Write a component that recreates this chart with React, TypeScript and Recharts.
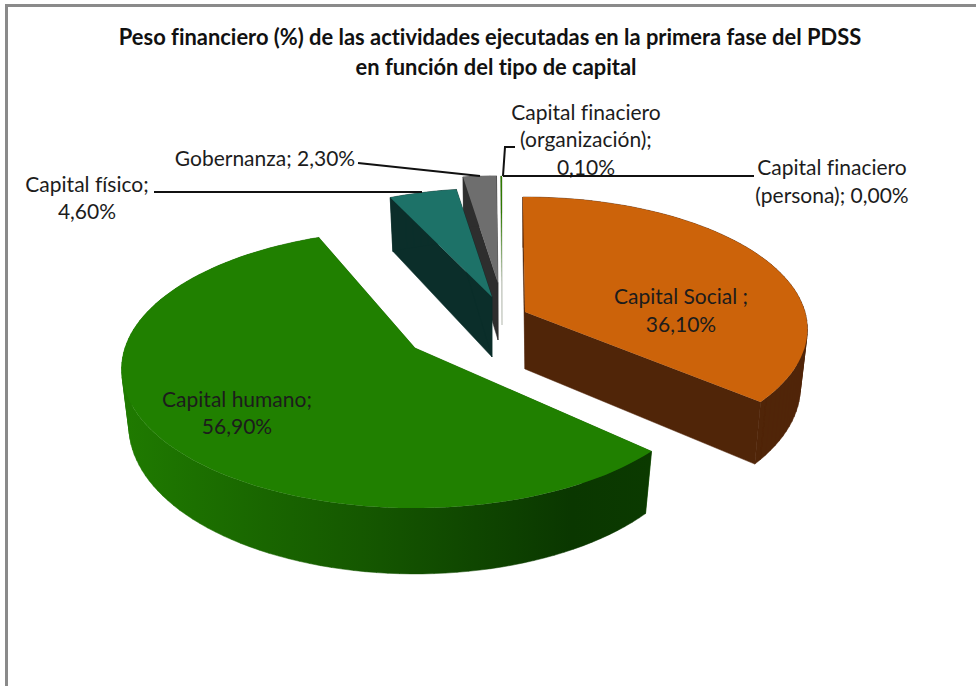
import { Cell, Pie, PieChart } from "recharts";

// draw order starts at Gobernanza so that the teal slice lands on top of the grey one
const names = [
  "Gobernanza",
  "Capital finaciero (organización)",
  "Capital finaciero (persona)",
  "Capital Social",
  "Capital humano",
  "Capital físico",
];
const values = [2.3, 0.1, 0.0, 36.1, 56.9, 4.6];
const labelLines = [
  ["Gobernanza; 2,30%"],
  ["Capital finaciero", "(organización);", "0,10%"],
  ["Capital finaciero", "(persona); 0,00%"],
  ["Capital Social ;", "36,10%"],
  ["Capital humano;", "56,90%"],
  ["Capital físico;", "4,60%"],
];
const topColors = ["#6e6e6e", "#2f7a00", "#2f7a00", "#cc630a", "#208000", "#1d7268"];
const wallColors = ["#2e2e2e", "#c4c8c0", "#c4c8c0", "#502508", "#1a6600", "#0b2e2a"];

const CX = 466;
const CY = 327;
const RADIUS = 280;
const FONT = "Lato, sans-serif";

// offset from the pie centre, size, tilt and perspective of each exploded slice
const frames = [
  { dx: 32, dy: -44, scale: 0.94, tilt: 0.46, k: 0.13, rot: 0, depth: 57 },
  { dx: 36, dy: -44, scale: 0.94, tilt: 0.46, k: 0.13, rot: 0, depth: 42 },
  { dx: 36, dy: -44, scale: 0.94, tilt: 0.46, k: 0.13, rot: 0, depth: 42 },
  { dx: 59, dy: -15, scale: 1.0, tilt: 0.464, k: 0.13, rot: -0.5, depth: 57 },
  { dx: -51, dy: 21, scale: 1.036, tilt: 0.469, k: 0.15, rot: 3, depth: 56 },
  { dx: 26, dy: -30, scale: 0.954, tilt: 0.46, k: 0.13, rot: 0, depth: 60 },
];
const labelSpots = [
  { x: 265, ys: [166] },
  { x: 586, ys: [120, 147, 175] },
  { x: 832, ys: [175, 203] },
  { x: 681, ys: [304, 332] },
  { x: 237, ys: [407, 434] },
  { x: 87, ys: [192, 219] },
];
const leaders = [
  "M358 163 L480 176",
  "M515 147 L505 147 L503 176",
  "M503 176 L754 176",
  "",
  "",
  "M154 192 L422 192",
];

const project = (frame: any, R: number, ax: number, ay: number, cw: number) => {
  const u = Math.sin((cw * Math.PI) / 180);
  const v = Math.cos((cw * Math.PI) / 180);
  const s = 1 / (1 + frame.k * v);
  return { x: ax + R * u * s, y: ay - R * frame.tilt * v * s, s };
};

const Slice3D = (props: any) => {
  const { cx, cy, outerRadius, startAngle, endAngle, fill, index } = props;
  if (Math.abs(endAngle - startAngle) < 0.01) return null;
  const frame = frames[index];
  const R = outerRadius * frame.scale;
  const ax = cx + frame.dx;
  const ay = cy + frame.dy;
  const from = 90 - startAngle + frame.rot;
  const to = 90 - endAngle + frame.rot;
  const arc: any[] = [];
  const steps = Math.max(2, Math.ceil(Math.abs(to - from) / 2));
  for (let i = 0; i <= steps; i++) {
    arc.push(project(frame, R, ax, ay, from + ((to - from) * i) / steps));
  }
  const drop = (p: any) => ({
    x: ax + (p.x - ax) * 0.975,
    y: p.y + frame.depth * p.s,
  });
  const path = (pts: any[]) => pts.map((p, i) => `${i ? "L" : "M"}${p.x.toFixed(1)} ${p.y.toFixed(1)}`).join(" ") + " Z";
  // outer side as quads of one winding, so the fold at the silhouette leaves no hole
  const quads = arc
    .slice(1)
    .map((p, i) => {
      const q = [arc[i], p, drop(p), drop(arc[i])];
      const area = q.reduce((sum, a, n) => {
        const b = q[(n + 1) % 4];
        return sum + a.x * b.y - b.x * a.y;
      }, 0);
      return path(area < 0 ? q.reverse() : q);
    })
    .join(" ");
  const apex = { x: ax, y: ay, s: 1 };
  const first = arc[0];
  const last = arc[arc.length - 1];
  const gradId = `side-${index}`;
  const isGreen = names[index] === "Capital humano";
  const wall = wallColors[index];
  const sideFill = isGreen ? `url(#${gradId})` : wall;
  return (
    <g>
      {isGreen && (
        <defs>
          <linearGradient id={gradId} gradientUnits="userSpaceOnUse" x1={125} x2={650} y1={0} y2={0}>
            <stop offset="0" stopColor="#1f7a00" />
            <stop offset="0.45" stopColor="#155800" />
            <stop offset="0.85" stopColor="#0a3700" />
            <stop offset="1" stopColor="#0b3a00" />
          </linearGradient>
        </defs>
      )}
      <path d={path([apex, first, drop(first), drop(apex)])} fill={wall} stroke={wall} strokeWidth={0.5} />
      <path d={path([apex, last, drop(last), drop(apex)])} fill={wall} stroke={wall} strokeWidth={0.5} />
      <path d={quads} fill={sideFill} stroke={sideFill} strokeWidth={0.5} />
      <path d={path([apex, ...arc])} fill={fill} />
    </g>
  );
};

const SliceLabel = (props: any) => {
  const i = props.index;
  const spot = labelSpots[i];
  return (
    <g>
      {leaders[i] && <path d={leaders[i]} fill="none" stroke="#111111" strokeWidth={2} />}
      {labelLines[i].map((line, n) => (
        <text
          key={n}
          x={spot.x}
          y={spot.ys[n]}
          textAnchor="middle"
          fontFamily={FONT}
          fontSize={21}
          fill="#1c1c1c"
          style={{ fontVariantLigatures: "none" }}
        >
          {line}
        </text>
      ))}
    </g>
  );
};

const data = names.map((name, i) => ({ name, value: values[i] }));

const App = () => (
  <div style={{ position: "absolute", left: 0, top: 0, width: 976, height: 686, background: "#fff", overflow: "hidden" }}>
    <div
      style={{
        position: "absolute",
        left: 5,
        top: 4,
        width: 976,
        height: 686,
        borderLeft: "3px solid #8a8a8a",
        borderTop: "3px solid #8a8a8a",
      }}
    />
    <div
      style={{
        position: "absolute",
        left: 0,
        top: 22,
        width: 980,
        textAlign: "center",
        fontFamily: FONT,
        fontWeight: 700,
        fontSize: 21.9,
        lineHeight: "30px",
        color: "#111",
        fontVariantLigatures: "none",
        whiteSpace: "nowrap",
      }}
    >
      Peso financiero (%) de las actividades ejecutadas en la primera fase del PDSS
      <br />
      <span style={{ position: "relative", left: 6 }}>en función del tipo de capital</span>
    </div>
    <div style={{ position: "absolute", left: 0, top: 0 }}>
      <PieChart width={976} height={686} margin={{ top: 0, right: 0, bottom: 0, left: 0 }}>
        <Pie
          data={data}
          dataKey="value"
          nameKey="name"
          cx={CX}
          cy={CY}
          outerRadius={RADIUS}
          startAngle={98.64}
          endAngle={-261.36}
          stroke="none"
          shape={Slice3D}
          label={SliceLabel}
          labelLine={false}
          isAnimationActive={false}
        >
          {data.map((d, i) => (
            <Cell key={d.name} fill={topColors[i]} />
          ))}
        </Pie>
      </PieChart>
    </div>
  </div>
);

export default App;
